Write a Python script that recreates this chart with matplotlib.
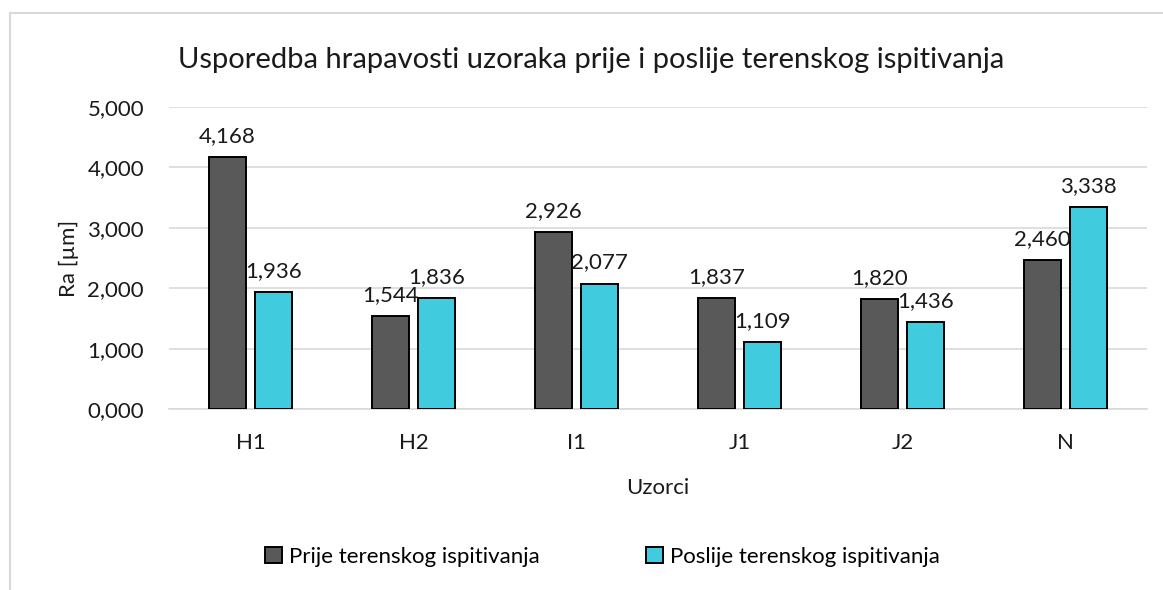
import numpy as np
import matplotlib.pyplot as plt
from matplotlib.lines import Line2D

plt.rcParams['font.family'] = ['Lato', 'DejaVu Sans']

uzorci = ['H1', 'H2', 'I1', 'J1', 'J2', 'N']
prije = [4.168, 1.544, 2.926, 1.837, 1.820, 2.460]
poslije = [1.936, 1.836, 2.077, 1.109, 1.436, 3.338]
yticks = [0, 1, 2, 3, 4, 5]

def fmt(v):
    return f"{v:.3f}".replace('.', ',')

fig = plt.figure(figsize=(11.63, 5.90), dpi=100)
ax = fig.add_axes([0.1453, 0.3068, 0.8409, 0.5118])

x = np.arange(len(uzorci))
w = 0.227
off = 0.141
b1 = ax.bar(x - off, prije, w, color='#595959', edgecolor='black', linewidth=1.4,
            label='Prije terenskog ispitivanja', zorder=3)
b2 = ax.bar(x + off, poslije, w, color='#40CCDE', edgecolor='black', linewidth=1.4,
            label='Poslije terenskog ispitivanja', zorder=3)

for bars, vals in ((b1, prije), (b2, poslije)):
    for r, v in zip(bars, vals):
        ax.annotate(fmt(v), (r.get_x() + r.get_width() / 2, v), xytext=(0, 8),
                    textcoords='offset points', ha='center', va='bottom',
                    fontsize=16, color='#1a1a1a')

ax.set_xlim(-0.5, len(uzorci) - 0.5)
ax.set_ylim(0, 5)
ax.set_yticks(yticks)
ax.set_yticklabels([fmt(t) for t in yticks], fontsize=16)
ax.set_xticks(x)
ax.set_xticklabels(uzorci, fontsize=16)
ax.tick_params(length=0, pad=17, colors='#1a1a1a')
ax.tick_params(axis='y', pad=18)
ax.grid(axis='y', color='#D9D9D9', linewidth=1.2, zorder=0)
for s in ('top', 'right', 'left'):
    ax.spines[s].set_visible(False)
ax.spines['bottom'].set_color('#D9D9D9')
ax.spines['bottom'].set_linewidth(1.2)

ax.set_xlabel('Uzorci', fontsize=16, labelpad=18, color='#1a1a1a')
ax.set_ylabel('Ra [µm]', fontsize=16, labelpad=6, color='#1a1a1a')
fig.text(0.508, 0.898, 'Usporedba hrapavosti uzoraka prije i poslije terenskog ispitivanja',
         ha='center', va='center', fontsize=21, color='#1a1a1a')

fig.legend(handles=[b1, b2], loc='center', bbox_to_anchor=(0.518, 0.056), ncol=2,
           frameon=False, fontsize=16, handlelength=0.75, handleheight=0.75,
           handletextpad=0.3, columnspacing=4.8)

# chart frame edges
fig.add_artist(Line2D([0.0086, 1.0], [0.978, 0.978], color='#D9D9D9', linewidth=1.5))
fig.add_artist(Line2D([0.0086, 0.0086], [0.0, 0.978], color='#D9D9D9', linewidth=1.5))

fig.savefig('out.png', dpi=100)
